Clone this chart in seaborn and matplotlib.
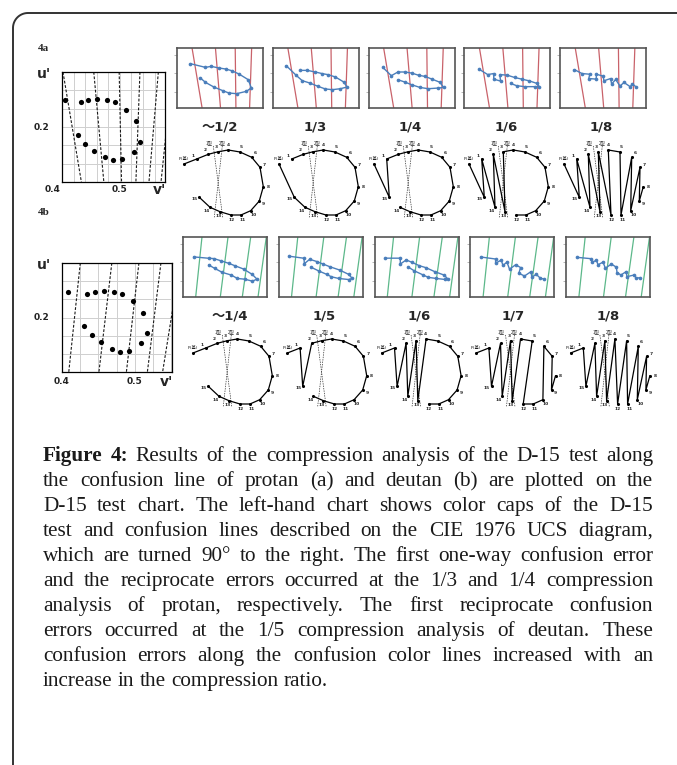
import numpy as np
import matplotlib
matplotlib.use("Agg")
import matplotlib.pyplot as plt
import seaborn as sns

sns.set_theme(style="white")
plt.rcParams['font.family'] = ['DejaVu Sans', 'Noto Sans CJK JP']

W, H = 677, 765

# ---- left charts: D-15 caps on CIE 1976 UCS (v' across, u' up) ----
cap_v_a = [0.405, 0.432, 0.445, 0.461, 0.477, 0.491, 0.510, 0.528, 0.534, 0.524, 0.503, 0.488, 0.475, 0.456, 0.440, 0.427]
cap_u_a = [0.229, 0.227, 0.230, 0.231, 0.229, 0.227, 0.219, 0.2065, 0.184, 0.173, 0.165, 0.164, 0.167, 0.174, 0.182, 0.191]
conf_top_a = [0.4017, 0.4549, 0.4988, 0.5347, 0.5665, 0.5908]
conf_bot_a = [0.4335, 0.4723, 0.5029, 0.5277, 0.5503, 0.5711]

cap_v_b = [0.4088, 0.4344, 0.4451, 0.4581, 0.4712, 0.4819, 0.4972, 0.5116, 0.5163, 0.5079, 0.4916, 0.4791, 0.4684, 0.4535, 0.4405, 0.4298]
cap_u_b = [0.2286, 0.2257, 0.2286, 0.2297, 0.2286, 0.2257, 0.2183, 0.2051, 0.1828, 0.1717, 0.1629, 0.1622, 0.1651, 0.1725, 0.1809, 0.1901]
conf_top_b = [0.4251, 0.4684, 0.5056, 0.5358, 0.5621]
conf_bot_b = [0.4093, 0.4507, 0.4884, 0.5172, 0.5381]

ticks_a = [0.40, 0.42, 0.44, 0.46, 0.48, 0.50, 0.52, 0.54, 0.56]
ticks_b = [0.400, 0.425, 0.450, 0.475, 0.500, 0.525, 0.550]
ticks_u = [0.16, 0.18, 0.20, 0.22, 0.24]

# ---- compressed thumbnails (x 0-100, y 0-70) ----
thumb_a_x = [
    [15.6, 33.1, 39.7, 48.6, 56.4, 63.4, 72.0, 82.9, 86.4, 80.5, 69.3, 60.3, 53.3, 42.8, 33.1, 27.2],
    [15.6, 27.2, 34.2, 42.8, 52.5, 61.1, 69.3, 78.6, 86.4, 82.5, 72.8, 64.2, 57.6, 49.4, 40.1, 31.9],
    [16.5, 26.4, 34.1, 42.0, 49.9, 58.8, 65.5, 73.4, 83.2, 87.1, 81.2, 69.4, 59.6, 49.9, 42.0, 34.1],
    [17.3, 27.1, 34.1, 34.1, 42.0, 41.2, 49.8, 58.4, 66.7, 75.3, 84.3, 87.1, 82.0, 70.2, 60.8, 53.7],
    [16.4, 25.4, 34.4, 33.2, 41.8, 42.2, 50.0, 50.8, 58.6, 59.8, 64.5, 69.5, 74.2, 81.3, 84.0, 87.9],
]
thumb_a_y = [
    [51.7, 47.4, 48.6, 46.7, 45.5, 43.6, 39.7, 33.0, 23.3, 19.4, 16.7, 17.5, 20.2, 24.5, 29.9, 35.0],
    [49.4, 38.1, 31.9, 29.2, 25.3, 22.2, 21.4, 22.5, 24.5, 30.3, 36.2, 38.9, 40.1, 42.0, 43.9, 43.9],
    [47.4, 37.7, 42.0, 42.0, 40.8, 38.0, 36.9, 33.8, 29.9, 24.0, 23.3, 22.5, 24.0, 27.2, 30.3, 33.0],
    [45.1, 39.0, 40.2, 33.7, 31.4, 39.0, 38.3, 35.6, 33.7, 31.7, 28.7, 24.9, 24.9, 24.9, 26.0, 28.7],
    [44.8, 40.2, 39.4, 34.4, 33.7, 39.4, 37.1, 31.7, 34.4, 27.9, 33.3, 25.6, 29.8, 24.9, 27.9, 24.9],
]
thumb_b_x = [
    [12.7, 30.6, 36.9, 45.6, 54.4, 61.5, 72.2, 82.5, 88.1, 82.5, 73.4, 64.7, 57.5, 46.8, 37.7, 30.6],
    [12.3, 30.0, 30.4, 36.8, 45.5, 52.6, 60.5, 72.3, 83.4, 87.4, 83.0, 71.5, 62.5, 57.3, 47.8, 38.7],
    [12.9, 30.6, 30.6, 37.6, 44.4, 53.3, 61.2, 71.8, 82.7, 87.4, 83.5, 72.9, 63.9, 58.0, 47.1, 40.0],
    [12.3, 30.0, 30.0, 36.8, 38.7, 43.5, 46.6, 53.8, 59.7, 57.7, 64.4, 72.3, 73.1, 78.3, 83.4, 87.4],
    [12.5, 29.6, 30.8, 36.0, 37.9, 43.9, 46.6, 53.8, 59.7, 60.5, 65.2, 71.5, 72.3, 81.0, 83.4, 87.4],
]
thumb_b_y = [
    [46.8, 45.2, 44.8, 42.1, 39.3, 36.6, 32.6, 26.3, 20.8, 18.5, 20.8, 21.6, 25.6, 28.7, 33.4, 37.4],
    [47.6, 45.2, 38.9, 44.0, 41.3, 38.5, 35.4, 31.5, 26.3, 21.6, 20.4, 21.6, 23.6, 26.3, 30.3, 34.6],
    [45.3, 45.3, 38.5, 43.2, 40.5, 36.5, 34.2, 29.5, 25.6, 20.9, 20.5, 21.7, 22.9, 25.6, 30.6, 35.0],
    [46.7, 44.3, 39.5, 43.1, 36.8, 40.7, 32.4, 37.6, 34.4, 27.7, 24.5, 29.7, 22.9, 26.5, 21.8, 21.0],
    [46.3, 44.7, 40.7, 42.7, 37.6, 40.7, 33.6, 38.4, 34.8, 28.5, 25.7, 29.7, 23.7, 25.7, 21.8, 22.6],
]
line_a_top = [17.5, 44.7, 67.7, 86.8]
line_a_bot = [29.2, 50.6, 68.5, 84.4]
line_b_top = [22.6, 53.6, 80.6, 99.2]
line_b_bot = [15.1, 44.4, 70.6, 89.3]
thumb_ticks = [18.7, 40.8, 62.2]

# ---- D-15 score sheet ----
d15_x = [0, 12.7, 24.3, 34.3, 44.3, 56, 67.7, 76, 79.3, 75.3, 66.7, 57, 47, 36, 26, 15.3]
d15_y = [0, 5, 9.7, 12.3, 14, 12, 6.7, -3.3, -22.7, -37, -46.7, -51, -51, -47.7, -43.3, -33.3]
d15_names = ['P(基)', '1', '2', '3', '4', '5', '6', '7', '8', '9', '10', '11', '12', '13', '14', '15']

order_a = [
    [0, 1, 2, 3, 4, 5, 6, 7, 8, 9, 10, 11, 12, 13, 14, 15],
    [0, 15, 14, 13, 12, 11, 10, 9, 8, 7, 6, 5, 4, 3, 2, 1],
    [0, 15, 1, 2, 3, 4, 5, 6, 7, 8, 9, 10, 11, 12, 13, 14],
    [0, 15, 1, 14, 2, 13, 3, 4, 5, 6, 7, 8, 9, 10, 11, 12],
    [0, 15, 1, 14, 2, 13, 3, 12, 4, 5, 11, 6, 10, 7, 9, 8],
]
order_b = [
    [0, 1, 2, 3, 4, 5, 6, 7, 8, 9, 10, 11, 12, 13, 14, 15],
    [0, 1, 15, 2, 3, 4, 5, 6, 7, 8, 9, 10, 11, 12, 13, 14],
    [0, 1, 15, 2, 14, 3, 13, 4, 5, 6, 7, 8, 9, 10, 11, 12],
    [0, 1, 15, 2, 14, 3, 13, 4, 5, 12, 11, 10, 6, 7, 9, 8],
    [0, 1, 15, 2, 14, 3, 13, 4, 12, 5, 11, 6, 10, 7, 9, 8],
]
ratio_a = ['～1/2', '1/3', '1/4', '1/6', '1/8']
ratio_b = ['～1/4', '1/5', '1/6', '1/7', '1/8']

caption_lines = [
    "Figure 4: Results of the compression analysis of the D-15 test along",
    "the confusion line of protan (a) and deutan (b) are plotted on the",
    "D-15 test chart. The left-hand chart shows color caps of the D-15",
    "test and confusion lines described on the CIE 1976 UCS diagram,",
    "which are turned 90° to the right. The first one-way confusion error",
    "and the reciprocate errors occurred at the 1/3 and 1/4 compression",
    "analysis of protan, respectively. The first reciprocate confusion",
    "errors occurred at the 1/5 compression analysis of deutan. These",
    "confusion errors along the confusion color lines increased with an",
    "increase in the compression ratio.",
]

fig = plt.figure(figsize=(W / 100, H / 100), dpi=100)


def px_axes(x0, y0, x1, y1):
    return fig.add_axes([x0 / W, 1 - y1 / H, (x1 - x0) / W, (y1 - y0) / H])


# background layer (frame, caption, panel tags)
bg = px_axes(0, 0, W, H)
bg.set_xlim(0, W)
bg.set_ylim(H, 0)
bg.axis('off')
r = 15
th = np.linspace(np.pi, 1.5 * np.pi, 20)
fx = np.concatenate([[13, 13], 13 + r + r * np.cos(th), [W + 5]])
fy = np.concatenate([[H + 5, 13 + r], 13 + r + r * np.sin(th), [13]])
bg.plot(fx, fy, color='#333333', lw=1.4)
bg.text(38, 48, '4a', fontsize=8, fontweight='bold', family='Liberation Serif', va='center')
bg.text(38, 212, '4b', fontsize=8, fontweight='bold', family='Liberation Serif', va='center')


def ucs_panel(box, cap_v, cap_u, top, bot, xticks, xlabels, xmax, lab_y):
    ax = px_axes(*box)
    ax.set_xlim(0.4, xmax)
    ax.set_ylim(0.14, 0.26)
    for t, b in zip(top, bot):
        ax.plot([t, b], [0.26, 0.14], color='k', lw=0.8, ls=(0, (2.5, 1.5)))
    sns.scatterplot(x=cap_v, y=cap_u, ax=ax, color='black', s=14, linewidth=0, zorder=3)
    ax.set_xticks(xticks)
    ax.set_xticklabels([])
    ax.set_yticks(ticks_u)
    ax.set_yticklabels([])
    ax.tick_params(length=0)
    ax.grid(True, color='#cfcfcf', lw=0.7)
    for s in ax.spines.values():
        s.set_color('black')
        s.set_linewidth(0.9)
    x0, y0, x1, y1 = box
    fs = dict(fontsize=6.5, fontweight='bold', color='#222222')
    bg.text(x0 - 20, y0 + (y1 - y0) * 0.5, '0.2', ha='center', va='center', **fs)
    for v, lab in zip(xticks, xlabels):
        if lab:
            xp = x0 + (v - 0.4) / (xmax - 0.4) * (x1 - x0)
            bg.text(xp, lab_y, lab, ha='center', va='center', **fs)
    bg.text(x0 - 18, y0 + 2, "u'", ha='center', va='center', fontsize=10, fontweight='bold')
    bg.text(x1 - 6, lab_y + 1, "v'", ha='center', va='center', fontsize=10, fontweight='bold')
    return ax


ax_a = ucs_panel((62, 72, 165, 182), cap_v_a, cap_u_a, conf_top_a, conf_bot_a,
                 ticks_a, ['', '', '', '', '', '0.5', '', '', ''], 0.578, 189)
bg.text(53, 189, '0.4', ha='center', va='center', fontsize=6.5, fontweight='bold', color='#222222')
ax_b = ucs_panel((62, 263, 172, 372), cap_v_b, cap_u_b, conf_top_b, conf_bot_b,
                 ticks_b, ['0.4', '', '', '', '0.5', '', ''], 0.551, 381)


def thumb(x0, y0, w, h, xs, ys, ltop, lbot, lcol):
    ax = px_axes(x0, y0, x0 + w, y0 + h)
    ax.set_xlim(0, 100)
    ax.set_ylim(0, 70)
    for t, b in zip(ltop, lbot):
        ax.plot([t, b], [70, 0], color=lcol, lw=0.9)
    ax.plot(xs, ys, color='#4a7ebb', lw=1.0)
    sns.scatterplot(x=xs, y=ys, ax=ax, color='#4a7ebb', s=7, linewidth=0, zorder=3)
    ax.set_xticks([])
    ax.set_yticks(thumb_ticks)
    ax.set_yticklabels([])
    ax.tick_params(axis='y', left=True, length=2, width=0.6, color='#aaaaaa')
    for s in ax.spines.values():
        s.set_color('#555555')
        s.set_linewidth(1.2)


def d15(px, py, order):
    ax = px_axes(px - 20, py - 30, px + 95, py + 62)
    ax.set_xlim(-20, 95)
    ax.set_ylim(-62, 30)
    ax.axis('off')
    ax.patch.set_alpha(0)
    ax.plot([29.3, 38.7], [18, -53.3], color='#333333', lw=0.5, ls=(0, (2, 1.5)))
    ax.plot([38.3, 30.3], [18, -53.3], color='#333333', lw=0.5, ls=(0, (2, 1.5)))
    ax.text(25.3, 21.5, '1型', fontsize=3.2, ha='center', va='center', family='Noto Sans CJK JP')
    ax.text(38.3, 21.5, '2型', fontsize=3.2, ha='center', va='center', family='Noto Sans CJK JP')
    xs = [d15_x[i] for i in order]
    ys = [d15_y[i] for i in order]
    ax.plot(xs, ys, color='black', lw=0.9)
    sns.scatterplot(x=d15_x, y=d15_y, ax=ax, color='black', s=5, linewidth=0, zorder=3)
    cx, cy = 46, -19
    for i, name in enumerate(d15_names):
        if i == 0:
            ax.text(0, 4.5, name, fontsize=3.2, ha='center', va='center',
                    family=['DejaVu Sans', 'Noto Sans CJK JP'])
            continue
        dx, dy = d15_x[i] - cx, d15_y[i] - cy
        n = np.hypot(dx, dy)
        ax.text(d15_x[i] + 5 * dx / n, d15_y[i] + 5 * dy / n, name, fontsize=3.2,
                ha='center', va='center', fontweight='bold')


for k in range(5):
    thumb(177 + 95.8 * k, 48, 86, 60, thumb_a_x[k], thumb_a_y[k], line_a_top, line_a_bot, '#c9626a')
    thumb(183 + 95.8 * k, 237, 84, 60, thumb_b_x[k], thumb_b_y[k], line_b_top, line_b_bot, '#5cb88a')
    bg.text(220 + 95.3 * k, 127, ratio_a[k], ha='center', va='center', fontsize=9.5, fontweight='bold',
            family=['DejaVu Sans', 'Noto Sans CJK JP'])
    bg.text(230 + 94.5 * k, 316, ratio_b[k], ha='center', va='center', fontsize=9.5, fontweight='bold',
            family=['DejaVu Sans', 'Noto Sans CJK JP'])
    d15(184 + 95 * k, 164, order_a[k])
    d15(193 + 94.4 * k, 353, order_b[k])

# caption, justified by hand
renderer = fig.canvas.get_renderer()
left, right = 43, 653
size = 15.3
for i, line in enumerate(caption_lines):
    y = 461 + 25 * i
    words = line.split(' ')
    objs = []
    for j, w in enumerate(words):
        bold = (i == 0 and j < 2)
        t = bg.text(0, y, w, fontsize=size, family='Liberation Serif', color='#1a1a1a',
                    fontweight='bold' if bold else 'normal', va='baseline', ha='left')
        objs.append(t)
    widths = [t.get_window_extent(renderer).width for t in objs]
    if i < len(caption_lines) - 1:
        gap = (right - left - sum(widths)) / (len(words) - 1)
    else:
        gap = size * 100 / 72 * 0.25
    x = left
    for t, wd in zip(objs, widths):
        t.set_x(x)
        x += wd + gap

fig.savefig('out.png', dpi=100)
